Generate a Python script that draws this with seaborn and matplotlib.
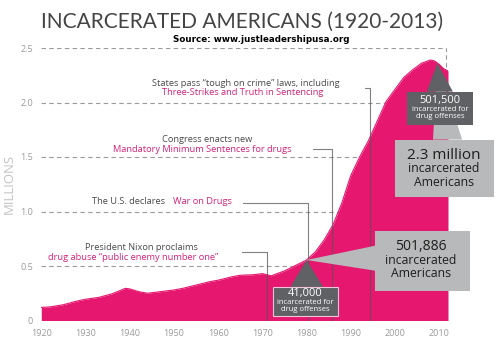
import numpy as np
import seaborn as sns
import matplotlib.pyplot as plt
from matplotlib.patches import Polygon

# total incarcerated (millions)
years = [1920, 1922, 1925, 1928, 1930, 1933, 1936, 1939, 1940, 1942, 1944, 1947,
         1950, 1952, 1955, 1958, 1960, 1963, 1965, 1968, 1970, 1972, 1975, 1978,
         1980, 1982, 1984, 1986, 1988, 1990, 1992, 1994, 1996, 1998, 2000, 2002,
         2004, 2006, 2008, 2009, 2010, 2011, 2012]
millions = [0.12, 0.125, 0.145, 0.178, 0.195, 0.212, 0.245, 0.295, 0.29, 0.265, 0.25, 0.265,
            0.28, 0.295, 0.325, 0.355, 0.37, 0.40, 0.415, 0.42, 0.43, 0.41, 0.455, 0.515,
            0.555, 0.63, 0.74, 0.88, 1.08, 1.33, 1.50, 1.65, 1.83, 2.01, 2.12, 2.23,
            2.30, 2.36, 2.39, 2.38, 2.35, 2.31, 2.29]

x_ticks = list(range(1920, 2011, 10))
y_ticks = [0, 0.5, 1.0, 1.5, 2.0, 2.5]
y_tick_labels = ['0', '0.5', '1.0', '1.5', '2.0', '2.5']

# events: (year, dark text, pink text)
event_years = [1971, 1980.3, 1985.8, 1994.4]
event_dark = ['President Nixon proclaims', 'The U.S. declares', 'Congress enacts new',
              'States pass \u201ctough on crime\u201d laws, including']
event_pink = ['drug abuse \u201cpublic enemy number one\u201d', 'War on Drugs',
              'Mandatory Minimum Sentences for drugs', 'Three-Strikes and Truth in Sentencing']

callout_years = [1980, 2009.6]
drug_offenses = ['41,000', '501,500']
total_labels = ['501,886', '2.3 million']

PINK = '#e5176f'
PINK_TXT = '#d4237a'
DARK = '#4a4a4a'
GREY = '#9a9a9a'
BOX_DARK = '#606164'
BOX_LIGHT = '#b8b9ba'

sns.set_theme(style='white')
plt.rcParams['font.family'] = ['Open Sans', 'DejaVu Sans']

fig = plt.figure(figsize=(5.01, 3.57), dpi=100)
ax = fig.add_axes([41.3 / 501, 36.5 / 357, 406.7 / 501, 272.5 / 357])

# dashed guide lines behind the area
ax.hlines(y_ticks[1:], 1920, 2011.6, colors=GREY, linestyles=(0, (4, 3)), lw=0.8, zorder=1)
ax.vlines(2011.6, 2.33, 2.5, colors=GREY, linestyles=(0, (4, 3)), lw=0.8, zorder=1)

sns.lineplot(x=years, y=millions, color=PINK, lw=0.8, ax=ax, zorder=2)
ax.fill_between(years, millions, color=PINK, lw=0, zorder=2)

ax.set_xlim(1920, 2012)
ax.set_ylim(0, 2.5)
ax.set_xticks(x_ticks)
ax.set_yticks(y_ticks)
ax.set_yticklabels(y_tick_labels)
ax.tick_params(axis='x', length=4, width=0.8, color=GREY, labelcolor=GREY, labelsize=6.5, pad=2)
ax.tick_params(axis='y', length=0, labelcolor=GREY, labelsize=6.5, pad=6)
for s in ax.spines.values():
    s.set_visible(False)
ax.set_xlabel('')
ax.set_ylabel('MILLIONS', color='#c4c4c4', fontsize=9.5, labelpad=3)

# event connectors and texts
conn_y = [0.63, 1.08, 1.57, 2.13]
conn_x0 = [1965.3, 1965.7, 1981.4, 1993.2]
for ex, cy, x0 in zip(event_years, conn_y, conn_x0):
    ax.plot([x0, ex, ex], [cy, cy, 0], color='#555555', alpha=0.75, lw=0.8, zorder=3)

fs = 6.7
ax.text(1942.6, 0.668, event_dark[0], color=DARK, fontsize=fs, ha='center', va='center')
ax.text(1940.8, 0.58, event_pink[0], color=PINK_TXT, fontsize=fs, ha='center', va='center')
ax.text(1931.4, 1.09, event_dark[1], color=DARK, fontsize=fs, ha='left', va='center')
ax.text(1949.7, 1.09, event_pink[1], color=PINK_TXT, fontsize=fs, ha='left', va='center')
ax.text(1957.4, 1.656, event_dark[2], color=DARK, fontsize=fs, ha='center', va='center')
ax.text(1956.5, 1.57, event_pink[2], color=PINK_TXT, fontsize=fs, ha='center', va='center')
ax.text(1966.3, 2.176, event_dark[3], color=DARK, fontsize=fs, ha='center', va='center')
ax.text(1965.6, 2.09, event_pink[3], color=PINK_TXT, fontsize=fs, ha='center', va='center')

# callouts
ax1 = (callout_years[0], float(np.interp(callout_years[0], years, millions)))
ax2 = (callout_years[1], float(np.interp(callout_years[1], years, millions)))

def add_poly(pts, color, z, edge=None):
    ax.add_patch(Polygon(pts, closed=True, facecolor=color, edgecolor=edge or color,
                         lw=0.8 if edge else 0, zorder=z, clip_on=False))

# light grey totals
add_poly([ax1, (1995.5, 0.686), (1995.5, 0.457)], BOX_LIGHT, 4)
add_poly([(1995.5, 0.273), (2016.9, 0.273), (2016.9, 0.824), (1995.5, 0.824)], BOX_LIGHT, 4)
add_poly([ax2, (2008.6, 1.66), (2015.2, 1.66)], BOX_LIGHT, 4)
add_poly([(2000.0, 1.136), (2022.3, 1.136), (2022.3, 1.66), (2000.0, 1.66)], BOX_LIGHT, 4)

# dark drug-offense boxes
add_poly([ax1, (1976.3, 0.305), (1983.8, 0.305)], BOX_DARK, 5)
add_poly([(1972.3, 0.041), (1987.1, 0.041), (1987.1, 0.305), (1972.3, 0.305)], BOX_DARK, 5, edge='#f3c4d7')
add_poly([ax2, (2007.2, 2.10), (2013.1, 2.10)], BOX_DARK, 5)
add_poly([(2002.8, 1.79), (2017.7, 1.79), (2017.7, 2.10), (2002.8, 2.10)], BOX_DARK, 5)

for cx, top, label in [(1979.7, 0.25, drug_offenses[0]), (2010.2, 2.02, drug_offenses[1])]:
    ax.text(cx, top, label, color='white', fontsize=8, ha='center', va='center', zorder=6)
    ax.text(cx, top - 0.085, 'incarcerated for', color='white', fontsize=5.5, ha='center', va='center', zorder=6)
    ax.text(cx, top - 0.145, 'drug offenses', color='white', fontsize=5.5, ha='center', va='center', zorder=6)

ax.text(2005.9, 0.677, total_labels[0], color='#1e1e1e', fontsize=10, ha='center', va='center', zorder=6)
ax.text(2005.9, 0.555, 'incarcerated', color='#1e1e1e', fontsize=8.8, ha='center', va='center', zorder=6)
ax.text(2005.9, 0.433, 'Americans', color='#1e1e1e', fontsize=8.8, ha='center', va='center', zorder=6)
ax.text(2011.1, 1.51, total_labels[1], color='#1e1e1e', fontsize=11, ha='center', va='center', zorder=6)
ax.text(2011.1, 1.39, 'incarcerated', color='#1e1e1e', fontsize=8.8, ha='center', va='center', zorder=6)
ax.text(2011.1, 1.265, 'Americans', color='#1e1e1e', fontsize=8.8, ha='center', va='center', zorder=6)

# title and source
fig.text(242.5 / 501, 1 - 21.7 / 357, 'INCARCERATED AMERICANS (1920-2013)', color='#444444',
         fontsize=15, ha='center', va='center', family=['Lato', 'DejaVu Sans'])
fig.text(260.8 / 501, 1 - 39.3 / 357, 'Source: www.justleadershipusa.org', color='black',
         fontsize=6.3, ha='center', va='center', weight='bold', family=['DejaVu Sans'])

plt.savefig('out.png', dpi=100)
